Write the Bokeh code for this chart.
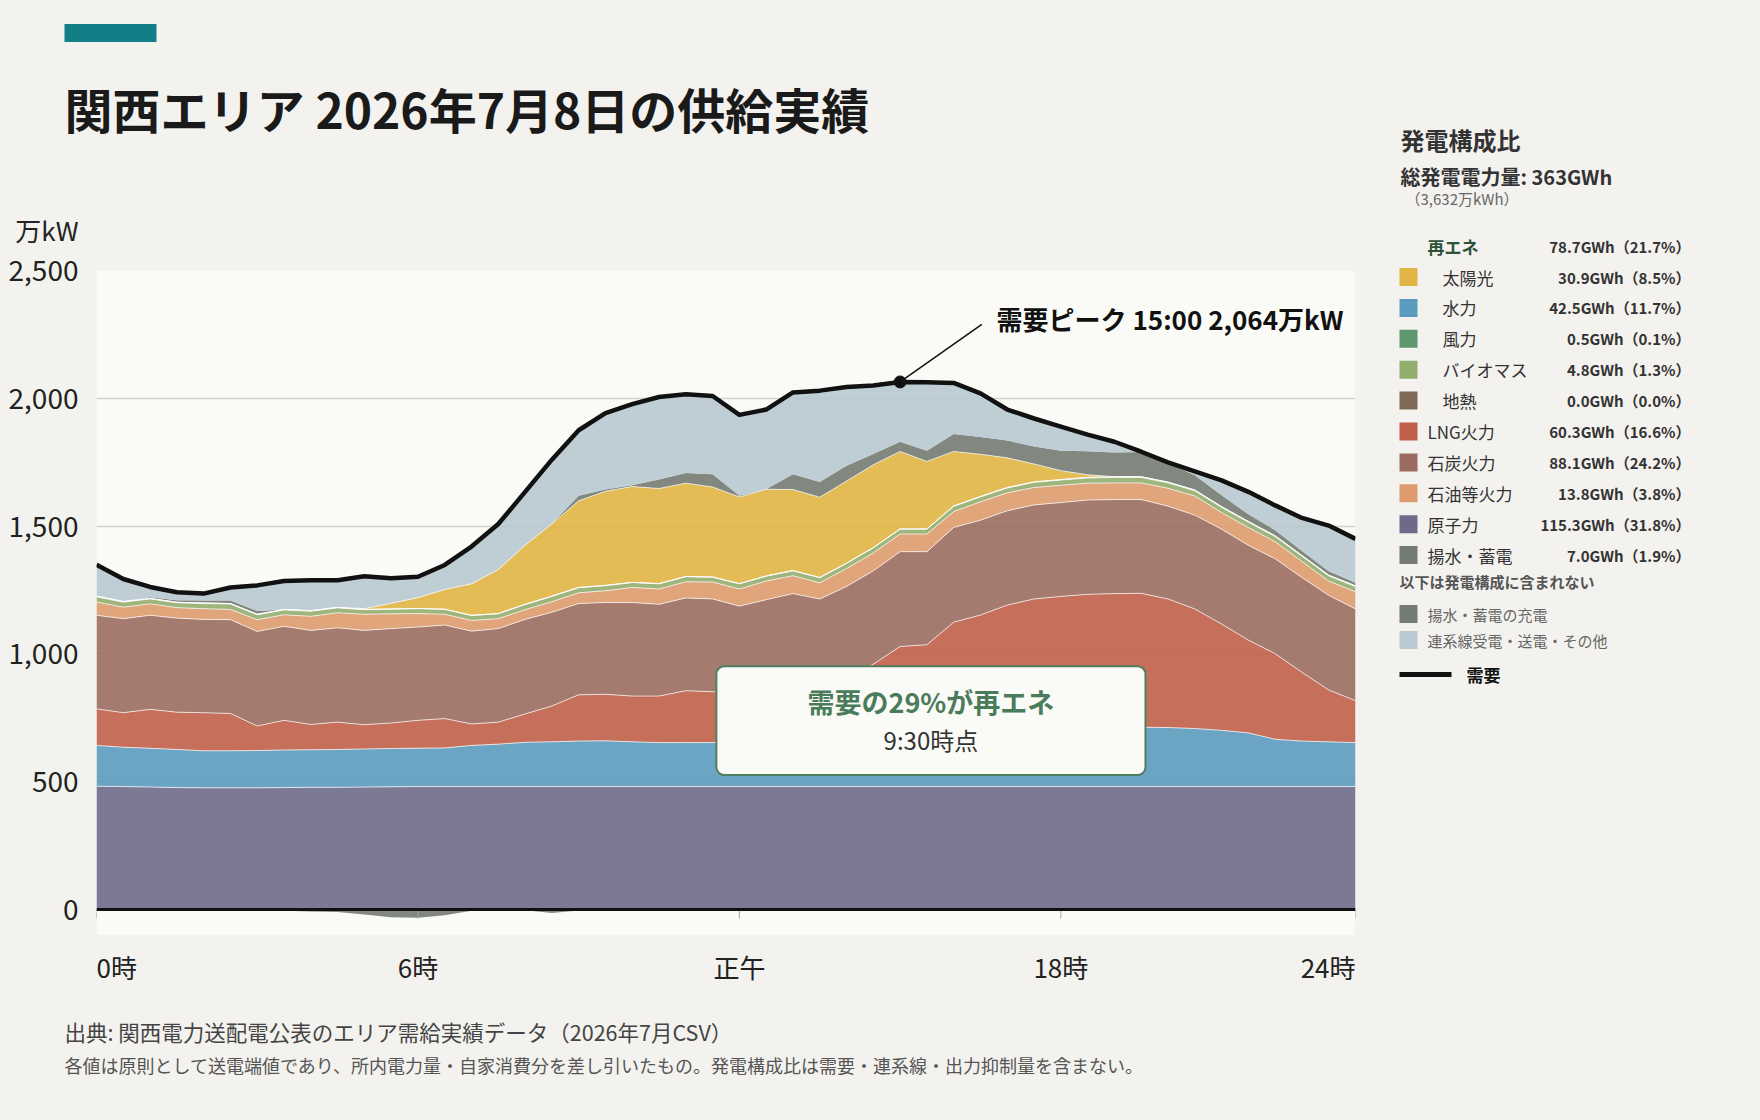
from bokeh.plotting import figure
from bokeh.layouts import row, column
from bokeh.models import (ColumnDataSource, Range1d, FixedTicker, NumeralTickFormatter,
                          Label, BoxAnnotation, Span)
from bokeh.transform import stack
from bokeh.embed import file_html
from bokeh.resources import INLINE

# ---------------- data (万kW, half-hourly 00:00 .. 23:30) ----------------
times = [f"{h:02d}:{m:02d}" for h in range(24) for m in (0, 30)]
idx = list(range(len(times)))

nuclear = [482, 481, 479, 477, 476, 476, 476, 477, 478, 478, 479, 480, 481, 481, 481, 481,
           481, 481, 481, 481, 481, 481, 481, 481, 481, 481, 481, 481, 481, 481, 481, 481,
           481, 481, 481, 481, 481, 481, 481, 481, 481, 481, 481, 481, 481, 481, 481, 481]
hydro = [160, 154, 152, 149, 145, 145, 146, 147, 147, 148, 149, 150, 150, 151, 161, 166,
         173, 175, 178, 179, 175, 172, 172, 172, 174, 175, 177, 179, 181, 184, 187, 191,
         195, 199, 204, 209, 215, 221, 227, 232, 231, 227, 220, 210, 185, 178, 175, 172]
lng = [143, 135, 152, 146, 149, 146, 96, 116, 99, 107, 95, 100, 109, 115, 84, 86,
       111, 140, 181, 182, 179, 182, 203, 199, 187, 201, 216, 215, 247, 295, 361, 364,
       448, 472, 506, 525, 529, 531, 528, 524, 503, 468, 416, 363, 335, 269, 203, 164]
coal = [366, 368, 368, 368, 365, 367, 370, 368, 368, 369, 369, 369, 365, 366, 363, 366,
        370, 367, 357, 359, 366, 359, 363, 363, 345, 355, 362, 340, 355, 365, 371, 364,
        371, 371, 369, 368, 367, 369, 368, 367, 363, 367, 371, 371, 371, 371, 370, 359]
oil = [52, 45, 45, 41, 42, 40, 46, 45, 55, 59, 63, 58, 53, 42, 42, 39,
       38, 41, 42, 46, 59, 60, 63, 66, 67, 73, 70, 63, 70, 70, 69, 69,
       62, 72, 70, 68, 68, 66, 65, 65, 70, 75, 65, 70, 67, 63, 56, 67]
biomass = [20, 19, 19, 19, 20, 21, 19, 19, 20, 19, 18, 18, 19, 19, 19, 19,
           20, 21, 20, 20, 19, 20, 20, 19, 20, 19, 19, 20, 20, 20, 19, 19,
           20, 19, 19, 20, 20, 20, 21, 21, 21, 20, 20, 20, 20, 20, 20, 20]
wind = [3, 3, 2, 2, 2, 2, 2, 2, 2, 2, 1, 1, 1, 1, 1, 1,
        1, 1, 1, 1, 1, 1, 1, 1, 1, 1, 1, 1, 1, 1, 1, 1,
        2, 2, 2, 2, 2, 3, 3, 3, 3, 3, 3, 3, 3, 3, 3, 3]
geothermal = [0] * 48
solar = [0, 0, 0, 0, 0, 0, 0, 0, 0, 0, 3, 22, 42, 77, 123, 172,
         231, 283, 339, 368, 375, 372, 365, 352, 339, 339, 317, 314, 321, 324, 303, 264,
         213, 165, 116, 70, 35, 10, 0, 0, 0, 0, 0, 0, 0, 0, 0, 0]
pumped = [0, 0, 5, 8, 10, 12, 13, 0, 0, 0, 0, 0, 0, 0, 0, 0,
          0, 0, 20, 7, 5, 35, 40, 50, 5, 0, 60, 60, 60, 42, 38, 42,
          68, 68, 68, 68, 78, 92, 95, 97, 75, 58, 45, 28, 22, 18, 15, 12]
interconnect = [123, 88, 40, 31, 27, 51, 100, 111, 119, 106, 127, 98, 82, 96, 146, 178,
                209, 251, 256, 299, 317, 323, 308, 306, 316, 312, 320, 357, 308, 268, 234, 268,
                200, 170, 121, 110, 94, 65, 42, 1, 2, 15, 58, 88, 97, 129, 179, 172]
charge = [0, 0, 0, 0, 0, 0, 0, -5, -8, -10, -20, -30, -32, -22, -5, 0,
          -3, -14, -4, 0, 0, 0, 0, 0, 0, 0, 0, 0, 0, 0, 0, 0,
          0, 0, 0, 0, 0, 0, 0, 0, 0, 0, 0, 0, 0, 0, 0, 0]
demand = [1349, 1293, 1262, 1241, 1236, 1260, 1268, 1285, 1288, 1288, 1304, 1296, 1302, 1348, 1420, 1508,
          1634, 1760, 1875, 1942, 1977, 2005, 2016, 2009, 1935, 1956, 2023, 2030, 2044, 2050, 2064, 2063,
          2060, 2019, 1956, 1921, 1889, 1858, 1830, 1791, 1749, 1714, 1679, 1634, 1581, 1532, 1502, 1450]

y_ticks = [0, 500, 1000, 1500, 2000, 2500]
x_tick_idx = [0, 12, 24, 36, 47]
x_tick_labels = ["0時", "6時", "正午", "18時", "24時"]

legend_names = ["太陽光", "水力", "風力", "バイオマス", "地熱", "LNG火力", "石炭火力", "石油等火力", "原子力", "揚水・蓄電"]
legend_gwh = [30.9, 42.5, 0.5, 4.8, 0.0, 60.3, 88.1, 13.8, 115.3, 7.0]
legend_pct = [8.5, 11.7, 0.1, 1.3, 0.0, 16.6, 24.2, 3.8, 31.8, 1.9]
renew_gwh, renew_pct = 78.7, 21.7
total_gwh, total_man = 363, 3632
callout_pct, callout_time = 29, "9:30"

# ---------------- styling ----------------
FONT = "Noto Sans CJK JP"
BG = "#F3F2EE"
PLOT_BG = "#FAFAF6"
COL = {
    "nuclear": "#6E6A8A", "hydro": "#5B9BBE", "lng": "#C0604A", "coal": "#9B6B60",
    "oil": "#DE9B6E", "biomass": "#93AD6E", "wind": "#5E9670", "geothermal": "#7E6A55",
    "solar": "#E0B545", "pumped": "#747B72", "interconnect": "#B8C9D1",
}
legend_keys = ["solar", "hydro", "wind", "biomass", "geothermal", "lng", "coal", "oil", "nuclear", "pumped"]

TOP_H = 249          # header strip height (page px)
MAIN_BOTTOM = 1000   # page y where the chart figure ends


def no_align(f):
    if "frame_align" in f.properties():
        f.frame_align = False
    return f


def blank(width, height, x0, x1, y_top, y_bottom):
    """A figure whose frame fills it completely, with coordinates in page pixels."""
    f = figure(width=width, height=height, output_backend="svg", toolbar_location=None,
               x_range=Range1d(x0, x1), y_range=Range1d(y_bottom, y_top),
               min_border_left=0, min_border_right=0, min_border_top=0, min_border_bottom=0,
               background_fill_color=BG, border_fill_color=BG, outline_line_color=None,
               x_axis_location=None, y_axis_location=None)
    f.title.visible = False
    f.xgrid.visible = False
    f.ygrid.visible = False
    return no_align(f)


def txt(f, x, y, text, size, color="#333333", bold=False, align="left"):
    f.add_layout(Label(x=x, y=y, text=text, text_font=FONT, text_font_size=size,
                       text_color=color, text_font_style="bold" if bold else "normal",
                       text_align=align, text_baseline="middle"))


# ---------------- header (page x 0..1380, y 0..TOP_H) ----------------
top = blank(1380, TOP_H, 0, 1380, 0, TOP_H)
top.quad(left=[64], right=[156], top=[23.5], bottom=[41.5], fill_color="#127E87", line_color=None)
txt(top, 64, 107, "関西エリア 2026年7月8日の供給実績", "48px", "#1A1A1A", bold=True)
txt(top, 78, 229, "万kW", "26px", "#222222", align="right")

# ---------------- main chart (page x 0..1380, y TOP_H..1000) ----------------
src = ColumnDataSource(dict(x=idx, nuclear=nuclear, hydro=hydro, lng=lng, coal=coal, oil=oil,
                            biomass=biomass, wind=wind, geothermal=geothermal, solar=solar,
                            pumped=pumped, interconnect=interconnect, charge=charge, demand=demand))

p = figure(width=1380, height=MAIN_BOTTOM - TOP_H, output_backend="svg", toolbar_location=None,
           x_range=Range1d(0, 47), y_range=Range1d(-356, 2500),
           min_border_left=96, min_border_right=25, min_border_top=270 - TOP_H, min_border_bottom=0,
           background_fill_color=BG, border_fill_color=BG,
           outline_line_color=None, x_axis_location=None)
no_align(p)
p.title.visible = False
p.xgrid.visible = False
p.ygrid.ticker = FixedTicker(ticks=y_ticks)
p.ygrid.grid_line_color = "#D3D2CD"
p.ygrid.grid_line_width = 1.5

p.add_layout(BoxAnnotation(left=0, right=47, bottom=-100, top=2500, fill_color=PLOT_BG,
                           fill_alpha=1.0, line_alpha=0, level="image"))

ax = p.yaxis[0]
ax.ticker = FixedTicker(ticks=y_ticks)
ax.formatter = NumeralTickFormatter(format="0,0")
ax.axis_line_color = None
ax.major_tick_line_color = None
ax.minor_tick_line_color = None
ax.major_tick_out = 0
ax.major_tick_in = 0
ax.major_label_standoff = 18
ax.major_label_text_font = FONT
ax.major_label_text_font_size = "28px"
ax.major_label_text_color = "#222222"

stackers = ["nuclear", "hydro", "lng", "coal", "oil", "biomass", "wind", "geothermal",
            "solar", "pumped", "interconnect"]
p.varea_stack(stackers=stackers, x="x", source=src,
              color=[COL[s] for s in stackers], fill_alpha=0.9)
p.varea(x="x", y1=0, y2="charge", source=src, fill_color=COL["pumped"], fill_alpha=0.9)

for k in range(1, len(stackers) - 1):
    p.line(x="x", y=stack(*stackers[:k]), source=src, line_color="white",
           line_alpha=0.7, line_width=1)

# tick marks hanging below the zero line
p.segment(x0=x_tick_idx, y0=[0] * len(x_tick_idx), x1=x_tick_idx, y1=[-36] * len(x_tick_idx),
          line_color="#A8A8A4", line_width=1)

p.add_layout(Span(location=0, dimension="width", line_color="#111111", line_width=3))

p.line(x="x", y="demand", source=src, line_color="#111111", line_width=4.5, line_join="round")

# x tick labels
aligns = ["left", "center", "center", "center", "right"]
for t, lab, al in zip(x_tick_idx, x_tick_labels, aligns):
    p.add_layout(Label(x=t, y=-223, text=lab, text_font=FONT, text_font_size="26px",
                       text_color="#222222", text_align=al, text_baseline="middle"))

# peak annotation
pk = max(range(len(demand)), key=lambda i: demand[i])
p.segment(x0=[pk], y0=[demand[pk]], x1=[pk + 3.05], y1=[demand[pk] + 225],
          line_color="#111111", line_width=1.5)
p.scatter(x=[pk], y=[demand[pk]], size=12, color="#111111")
p.add_layout(Label(x=pk + 3.6, y=demand[pk] + 250, text=f"需要ピーク {times[pk]} {demand[pk]:,}万kW",
                   text_font=FONT, text_font_size="26px", text_font_style="bold",
                   text_color="#111111", text_baseline="middle"))

# callout box
p.add_layout(BoxAnnotation(left=23.14, right=39.16, top=952, bottom=526,
                           fill_color=PLOT_BG, fill_alpha=1.0, line_color="#4F7F61",
                           line_alpha=1.0, line_width=2, border_radius=8))
p.add_layout(Label(x=31.15, y=812, text=f"需要の{callout_pct}%が再エネ", text_font=FONT,
                   text_font_size="27px", text_font_style="bold", text_color="#4A7C5C",
                   text_align="center", text_baseline="middle"))
p.add_layout(Label(x=31.15, y=666, text=f"{callout_time}時点", text_font=FONT,
                   text_font_size="24px", text_color="#333333",
                   text_align="center", text_baseline="middle"))

# ---------------- footnotes (page x 0..1380, y 1000..1120) ----------------
foot = blank(1380, 1120 - MAIN_BOTTOM, 0, 1380, MAIN_BOTTOM, 1120)
txt(foot, 64, 1031, "出典: 関西電力送配電公表のエリア需給実績データ（2026年7月CSV）", "21.5px", "#444444")
txt(foot, 64, 1064, "各値は原則として送電端値であり、所内電力量・自家消費分を差し引いたもの。発電構成比は需要・連系線・出力抑制量を含まない。",
    "18px", "#555555")

# ---------------- legend panel (page x 1380..1760, y 0..1120) ----------------
leg = blank(380, 1120, 1380, 1760, 0, 1120)
VAL_R = 1690
txt(leg, 1400, 139, "発電構成比", "24px", "#333333", bold=True)
txt(leg, 1400, 175.5, f"総発電電力量: {total_gwh}GWh", "20px", "#333333", bold=True)
txt(leg, 1405, 197.5, f"（{total_man:,}万kWh）", "15px", "#666666")
txt(leg, 1427, 245.5, "再エネ", "17px", "#2E5236", bold=True)
txt(leg, VAL_R, 245.5, f"{renew_gwh:.1f}GWh（{renew_pct:.1f}%）", "15px", "#333333", bold=True, align="right")

row0, step = 276.5, 30.9
ys = [row0 + i * step for i in range(len(legend_names))]
leg.quad(left=[1399] * len(ys), right=[1417] * len(ys), top=[y - 9 for y in ys],
         bottom=[y + 9 for y in ys], fill_color=[COL[k] for k in legend_keys], line_color=None)
for i, (name, g, pc) in enumerate(zip(legend_names, legend_gwh, legend_pct)):
    txt(leg, 1442 if i < 5 else 1427, ys[i], name, "17px", "#333333")
    txt(leg, VAL_R, ys[i], f"{g:.1f}GWh（{pc:.1f}%）", "15px", "#333333", bold=True, align="right")

txt(leg, 1399, 581, "以下は発電構成に含まれない", "15px", "#555555", bold=True)
leg.quad(left=[1399, 1399], right=[1417, 1417], top=[604.5, 630.5], bottom=[622.5, 648.5],
         fill_color=[COL["pumped"], COL["interconnect"]], line_color=None)
txt(leg, 1427, 613.5, "揚水・蓄電の充電", "15px", "#666666")
txt(leg, 1427, 639.5, "連系線受電・送電・その他", "15px", "#666666")
leg.segment(x0=[1399], y0=[674], x1=[1451], y1=[674], line_color="#111111", line_width=5)
txt(leg, 1466, 674, "需要", "17px", "#111111", bold=True)

left_col = column(top, p, foot, spacing=0, styles={"background-color": BG})
layout = row(left_col, leg, spacing=0, styles={"background-color": BG})
open("out.html", "w").write(file_html(layout, INLINE))
